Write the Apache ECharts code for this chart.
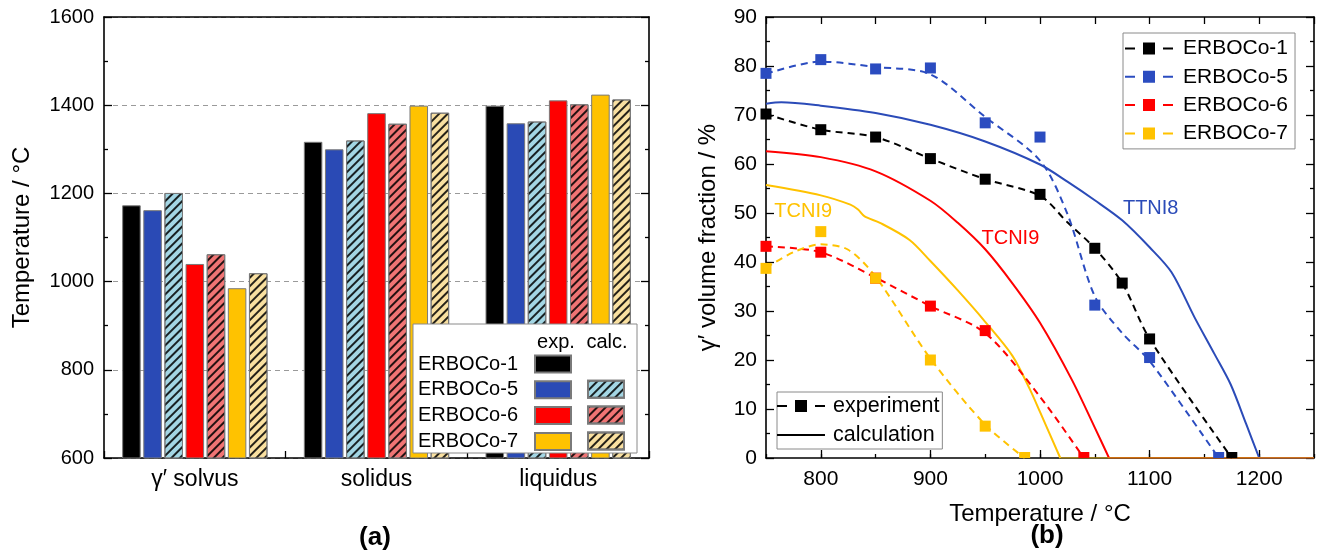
<!DOCTYPE html>
<html><head><meta charset="utf-8">
<script src="https://cdn.jsdelivr.net/npm/echarts@6/dist/echarts.min.js"></script>
<style>html,body{margin:0;padding:0;background:#fff}#c{width:1324px;height:554px}</style>
</head><body><div id="c"></div>
<script>
// ---------- (a) transition temperatures ----------
const categories = ['γ′ solvus', 'solidus', 'liquidus'];
const exp1  = [1173, 1317, 1399];
const exp5  = [1162, 1300, 1359];
const calc5 = [1201, 1320, 1363];
const exp6  = [1040, 1382, 1411];
const calc6 = [1062, 1358, 1402];
const exp7  = [985, 1399, 1424];
const calc7 = [1019, 1383, 1413];

// ---------- (b) gamma prime volume fraction ----------
const tempTickLabels = [800, 900, 1000, 1100, 1200];
const alloyNames = ['ERBOCo-1', 'ERBOCo-5', 'ERBOCo-6', 'ERBOCo-7'];
const fvExp1 = [[750,70.2],[800,67.0],[850,65.5],[900,61.1],[950,56.9],[1000,53.8],[1050,42.8],[1075,35.7],[1100,24.3],[1175,0]];
const fvExp5 = [[750,78.5],[800,81.3],[850,79.4],[900,79.6],[950,68.4],[1000,65.5],[1050,31.2],[1100,20.5],[1163,0]];
const fvExp6 = [[750,43.2],[800,42.0],[850,36.7],[900,31.0],[950,26.0],[1040,0]];
const fvExp7 = [[750,38.7],[800,46.2],[850,36.7],[900,20.0],[950,6.5],[986,0]];
const fitExp1 = [[750,70.2],[800,67.0],[850,65.5],[900,61.1],[950,56.9],[1000,53.5],[1025,48.1],[1050,42.8],[1075,35.7],[1100,24.3],[1175,0]];
const fitExp5 = [[750,78.4],[800,80.9],[850,79.8],[900,78.3],[950,69.6],[1000,60.7],[1025,49.8],[1050,33.0],[1075,25.5],[1100,19.8],[1163,0]];
const fitExp6 = [[750,43.2],[800,42.0],[850,36.8],[900,31.0],[950,25.5],[1000,12.5],[1040,0]];
const fitExp7 = [[750,38.8],[775,42.0],[800,43.6],[825,42.5],[850,37.0],[900,20.3],[950,6.8],[986,0]];
const calcTTNI8 = [[750,72.3],[764,72.6],[800,71.9],[850,70.4],[900,68.0],[950,64.6],[1000,59.9],[1025,56.4],[1050,52.6],[1075,48.5],[1100,43.0],[1120,37.9],[1141,28.7],[1159,21.3],[1174,15.0],[1188,7.0],[1200,0]];
const calcTCNI9_6 = [[750,62.6],[800,61.4],[850,58.5],[900,52.5],[925,48.0],[950,42.6],[975,35.6],[1000,27.6],[1029,16.0],[1050,6.2],[1063,0]];
const calcTCNI9_7 = [[750,55.7],[800,53.6],[827,51.7],[834,50.7],[840,49.3],[854,48.0],[881,44.5],[900,40.2],[925,34.2],[950,27.8],[975,20.8],[991,13.9],[1000,9.4],[1018.5,0]];
const annotTTNI8 = [1101, 50.9];
const annotTCNI9red = [973, 44.8];
const annotTCNI9yel = [784, 50.3];

const X_MIN = 750, X_MAX = 1250;
const FONT = 'Liberation Sans, Arial, sans-serif';
const C = { black:'#000000', blue:'#2a4ab5', cyan:'#a3d6e4', red:'#ff0000', salmon:'#f07474', yellow:'#ffc200', lyellow:'#f9e0a0' };
const hatch = { symbol:'rect', symbolSize:1, color:'rgba(0,0,0,0.85)', dashArrayX:[1,0], dashArrayY:[1.6,4], rotation: -Math.PI/4 };

function bar(name, data, color, hatched) {
  return { type:'bar', name, data, xAxisIndex:0, yAxisIndex:0, barCategoryGap:'20%', barGap:'14%',
    itemStyle:{ color, borderColor:'#7a7a7a', borderWidth:1, decal: hatched ? hatch : null }, silent:true };
}
function zeroHalf(arr){ return arr.map(p => p[1] === 0 ? { value:p, symbolSize:[11,6], symbolOffset:[0,-3] } : p); }
function scat(name, data, color){ return { type:'scatter', name, data: zeroHalf(data), xAxisIndex:2, yAxisIndex:2, symbol:'rect', symbolSize:11, itemStyle:{color, opacity:1}, z:5, silent:true }; }
function fit(name, data, color){ return { type:'line', name, data, xAxisIndex:2, yAxisIndex:2, showSymbol:false, symbol:'none', smooth:0.3, lineStyle:{color, width:2, type:[7,5]}, z:3, silent:true }; }
function calc(name, data, color){ return { type:'line', name, data, xAxisIndex:2, yAxisIndex:2, showSymbol:false, symbol:'none', smooth:0.3, lineStyle:{color, width:2}, z:2, silent:true }; }
function tail(name, data, color){ const last = data[data.length-1]; return { type:'line', name, data:[last, [X_MAX, last[1]]], xAxisIndex:2, yAxisIndex:2, showSymbol:false, symbol:'none', lineStyle:{color, width:1.2}, z:2, silent:true }; }
function annot(name, pos, text, color){ return { type:'scatter', name, xAxisIndex:2, yAxisIndex:2, symbolSize:0, data:[pos], silent:true, z:6,
  itemStyle:{opacity:1}, label:{ show:true, position:'inside', formatter:text, color, fontSize:20, fontFamily:FONT } }; }

const axisLineBlack = { show:true, onZero:false, lineStyle:{ color:'#000', width:1.6 } };
const tickStyle = { color:'#000', width:1.3 };
const expIcon = 'path://M0,5h10v2h-10z M18,0h12v12h-12z M38,5h10v2h-10z';
const calcIcon = 'path://M0,5h48v2h-48z M0,0h0.01v0.01h-0.01z M0,12h0.01v0.01h-0.01z';

const option = {
  animation:false,
  textStyle:{ fontFamily:FONT, color:'#000' },
  grid:[
    { left:104, top:17, width:545, height:441 },
    { left:766, top:17, width:548, height:441 }
  ],
  xAxis:[
    { type:'category', gridIndex:0, data:categories, position:'bottom', axisLine:axisLineBlack,
      axisTick:{ show:true, inside:true, length:7, lineStyle:tickStyle },
      axisLabel:{ fontSize:23, color:'#000', margin:10, fontFamily:FONT } },
    { type:'category', gridIndex:0, data:categories, position:'top', axisLine:axisLineBlack,
      axisTick:{ show:false }, axisLabel:{ show:false } },
    { type:'value', gridIndex:1, min:X_MIN, max:X_MAX, interval:50, position:'bottom', axisLine:axisLineBlack,
      axisTick:{ show:true, inside:true, length:4, lineStyle:tickStyle },
      axisLabel:{ fontSize:21, color:'#000', margin:11, fontFamily:FONT, formatter: v => (v % 100 === 0 ? String(v) : '') },
      splitLine:{ show:false },
      name:'Temperature / °C', nameLocation:'middle', nameGap:44, nameTextStyle:{ fontSize:24, color:'#000', fontFamily:FONT } },
    { type:'value', gridIndex:1, min:X_MIN, max:X_MAX, position:'bottom', axisLine:{show:false},
      axisTick:{ show:true, inside:true, length:8, lineStyle:tickStyle, customValues:tempTickLabels },
      axisLabel:{ show:false }, splitLine:{ show:false } },
    { type:'value', gridIndex:1, min:X_MIN, max:X_MAX, interval:50, position:'top', axisLine:axisLineBlack,
      axisTick:{ show:true, inside:true, length:7, lineStyle:tickStyle }, axisLabel:{ show:false }, splitLine:{ show:false } }
  ],
  yAxis:[
    { type:'value', gridIndex:0, min:600, max:1600, interval:200, position:'left', axisLine:axisLineBlack,
      axisTick:{ show:true, inside:true, length:8, lineStyle:tickStyle },
      minorTick:{ show:true, splitNumber:2, length:4, lineStyle:tickStyle },
      axisLabel:{ fontSize:20, color:'#000', margin:10, fontFamily:FONT, formatter: v => String(v) },
      splitLine:{ show:true, lineStyle:{ color:'#9a9a9a', width:1, type:[5,4] } },
      name:'Temperature / °C', nameLocation:'middle', nameGap:70, nameTextStyle:{ fontSize:24, color:'#000', fontFamily:FONT } },
    { type:'value', gridIndex:0, min:600, max:1600, interval:200, position:'right', axisLine:axisLineBlack,
      axisTick:{ show:true, inside:true, length:8, lineStyle:tickStyle },
      minorTick:{ show:true, splitNumber:2, length:4, lineStyle:tickStyle },
      axisLabel:{ show:false }, splitLine:{ show:false } },
    { type:'value', gridIndex:1, min:0, max:90, interval:10, position:'left', axisLine:axisLineBlack,
      axisTick:{ show:true, inside:true, length:8, lineStyle:tickStyle },
      minorTick:{ show:true, splitNumber:2, length:4, lineStyle:tickStyle },
      axisLabel:{ fontSize:21, color:'#000', margin:9, fontFamily:FONT },
      splitLine:{ show:false },
      name:'γ′ volume fraction / %', nameLocation:'middle', nameGap:46, nameTextStyle:{ fontSize:24, color:'#000', fontFamily:FONT } },
    { type:'value', gridIndex:1, min:0, max:90, interval:10, position:'right', axisLine:axisLineBlack,
      axisTick:{ show:true, inside:true, length:8, lineStyle:tickStyle },
      minorTick:{ show:true, splitNumber:2, length:4, lineStyle:tickStyle },
      axisLabel:{ show:false }, splitLine:{ show:false } }
  ],
  legend:[
    { data:['ERBOCo-1 exp.','ERBOCo-5 exp.','ERBOCo-6 exp.','ERBOCo-7 exp.'], formatter: n => n.replace(' exp.',''),
      orient:'vertical', align:'right', right:752, top:354, padding:0, itemWidth:36, itemHeight:17, itemGap:5.8,
      icon:'rect', selectedMode:false, z:20,
      textStyle:{ fontSize:20, lineHeight:17, color:'#000', fontFamily:FONT, padding:[0,12,0,0] } },
    { data:['ERBOCo-5 calc.','ERBOCo-6 calc.','ERBOCo-7 calc.'], formatter: () => ' ',
      orient:'vertical', left:587, top:379.3, padding:0, itemWidth:36, itemHeight:17, itemGap:5.8,
      icon:'rect', selectedMode:false, z:20,
      textStyle:{ fontSize:20, lineHeight:17, color:'#000', fontFamily:FONT } },
    { data:alloyNames, orient:'vertical', left:1123, top:33, padding:[5,7,5,2], itemWidth:48, itemHeight:12, itemGap:7.3,
      icon:expIcon, selectedMode:false, borderColor:'#8a8a8a', borderWidth:1, backgroundColor:'#fff', z:20,
      textStyle:{ fontSize:21, lineHeight:20, color:'#000', fontFamily:FONT, padding:[0,0,0,5] } },
    { data:[{name:'experiment', icon:expIcon}, {name:'calculation', icon:calcIcon}], orient:'vertical', left:777, top:392, padding:[3,3,3,0],
      itemWidth:48, itemHeight:12, itemGap:7, selectedMode:false, borderColor:'#8a8a8a', borderWidth:1, backgroundColor:'#fff', z:20,
      textStyle:{ fontSize:21.5, lineHeight:20, color:'#000', fontFamily:FONT, padding:[0,0,0,3] } }
  ],
  graphic:[
    { type:'rect', z:10, shape:{ x:413, y:324, width:224, height:129 }, style:{ fill:'#fff', stroke:'#8a8a8a', lineWidth:1 } },
    { type:'text', z:21, x:556, y:342, style:{ text:'exp.', font:'20px ' + FONT, fill:'#000', align:'center', verticalAlign:'middle' } },
    { type:'text', z:21, x:607, y:342, style:{ text:'calc.', font:'20px ' + FONT, fill:'#000', align:'center', verticalAlign:'middle' } },
    { type:'text', z:21, x:375, y:538, style:{ text:'(a)', font:'bold 26px ' + FONT, fill:'#000', align:'center', verticalAlign:'middle' } },
    { type:'text', z:21, x:1047, y:536, style:{ text:'(b)', font:'bold 26px ' + FONT, fill:'#000', align:'center', verticalAlign:'middle' } }
  ],
  series:[
    bar('ERBOCo-1 exp.', exp1, C.black, false),
    bar('ERBOCo-5 exp.', exp5, C.blue, false),
    bar('ERBOCo-5 calc.', calc5, C.cyan, true),
    bar('ERBOCo-6 exp.', exp6, C.red, false),
    bar('ERBOCo-6 calc.', calc6, C.salmon, true),
    bar('ERBOCo-7 exp.', exp7, C.yellow, false),
    bar('ERBOCo-7 calc.', calc7, C.lyellow, true),

    calc('TTNI8 ERBOCo-5', calcTTNI8, '#2b4bb8'),
    calc('TCNI9 ERBOCo-6', calcTCNI9_6, C.red),
    calc('TCNI9 ERBOCo-7', calcTCNI9_7, C.yellow),
    tail('tail5', calcTTNI8, '#2b4bb8'),
    tail('tail6', calcTCNI9_6, C.red),
    tail('tail7', calcTCNI9_7, C.yellow),
    fit('fit ERBOCo-1', fitExp1, C.black),
    fit('fit ERBOCo-5', fitExp5, '#2b4cc0'),
    fit('fit ERBOCo-6', fitExp6, C.red),
    fit('fit ERBOCo-7', fitExp7, C.yellow),
    scat('ERBOCo-1', fvExp1, C.black),
    scat('ERBOCo-5', fvExp5, '#2b4cc0'),
    scat('ERBOCo-6', fvExp6, C.red),
    scat('ERBOCo-7', fvExp7, C.yellow),
    annot('lblTTNI8', annotTTNI8, 'TTNI8', '#2b4bb8'),
    annot('lblTCNI9a', annotTCNI9red, 'TCNI9', C.red),
    annot('lblTCNI9b', annotTCNI9yel, 'TCNI9', C.yellow),
    { type:'line', name:'experiment', data:[], xAxisIndex:2, yAxisIndex:2, color:'#000', itemStyle:{color:'#000'} },
    { type:'line', name:'calculation', data:[], xAxisIndex:2, yAxisIndex:2, color:'#000', itemStyle:{color:'#000'} }
  ]
};
const chart = echarts.init(document.getElementById('c'), null, { renderer:'canvas' });
chart.setOption(option);
</script></body></html>
